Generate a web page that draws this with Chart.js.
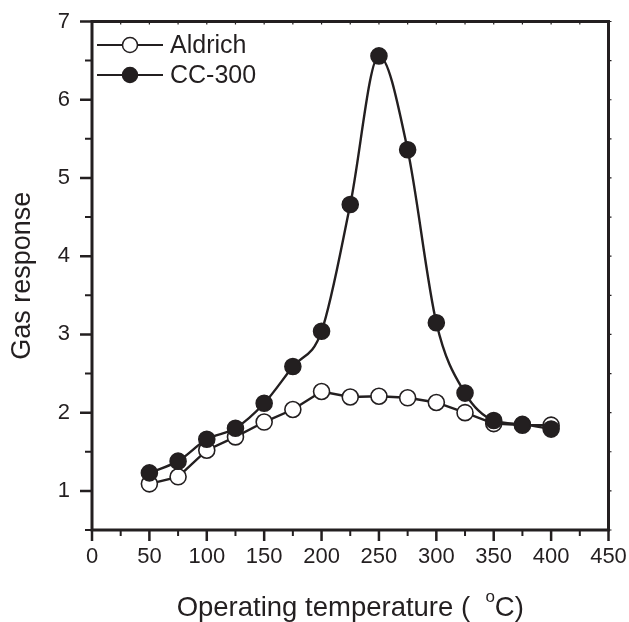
<!DOCTYPE html>
<html>
<head>
<meta charset="utf-8">
<script src="https://cdn.jsdelivr.net/npm/chart.js@4.4.1/dist/chart.umd.min.js"></script>
<style>
  html, body { margin: 0; padding: 0; background: #fff; }
</style>
</head>
<body>
<canvas id="myChart" width="629" height="622"></canvas>
<script>
'use strict';

// operating temperature (°C)
var temperatures = [50, 75, 100, 125, 150, 175, 200, 225, 250, 275, 300, 325, 350, 375, 400];
// gas response
var aldrich = [1.09, 1.18, 1.52, 1.69, 1.88, 2.04, 2.27, 2.20, 2.21, 2.19, 2.13, 2.00, 1.86, 1.84, 1.84];
var cc300 = [1.23, 1.38, 1.66, 1.80, 2.12, 2.59, 3.04, 4.66, 6.56, 5.36, 3.15, 2.25, 1.90, 1.85, 1.79];

var xTicks = [0, 50, 100, 150, 200, 250, 300, 350, 400, 450];
var yTicks = [1, 2, 3, 4, 5, 6, 7];

var ink = '#231f20';
var fontFamily = '"Liberation Sans", Arial, Helvetica, sans-serif';

function toPoints(ys) {
  return temperatures.map(function(t, i) { return { x: t, y: ys[i] }; });
}

// keep the plot box where the layout padding puts it
function noScalePadding(scale) {
  scale.paddingTop = 0;
  scale.paddingBottom = 0;
  scale.paddingLeft = 0;
  scale.paddingRight = 0;
}

// frame, major/minor ticks, legend and the x title (with the degree "o")
var decorations = {
  id: 'decorations',
  beforeDatasetsDraw: function(chart) {
    var ctx = chart.ctx;
    var a = chart.chartArea;
    var xs = chart.scales.x;
    var ys = chart.scales.y;
    ctx.save();
    ctx.strokeStyle = ink;
    ctx.lineCap = 'butt';

    // minor values sit halfway between the labelled ones
    var xMinor = [];
    for (var i = 0; i < xTicks.length - 1; i++) xMinor.push((xTicks[i] + xTicks[i + 1]) / 2);
    var yMinor = [0.5];
    for (var j = 0; j < yTicks.length - 1; j++) yMinor.push((yTicks[j] + yTicks[j + 1]) / 2);

    ctx.lineWidth = 2.5;
    ctx.beginPath();
    xTicks.forEach(function(v) {
      var px = xs.getPixelForValue(v);
      ctx.moveTo(px, a.bottom); ctx.lineTo(px, a.bottom + 11);
    });
    yTicks.forEach(function(v) {
      var py = ys.getPixelForValue(v);
      ctx.moveTo(a.left, py); ctx.lineTo(a.left - 12, py);
    });
    ctx.stroke();

    ctx.lineWidth = 2;
    ctx.beginPath();
    xMinor.forEach(function(v) {
      var px = xs.getPixelForValue(v);
      ctx.moveTo(px, a.bottom); ctx.lineTo(px, a.bottom + 6);
    });
    yMinor.forEach(function(v) {
      var py = ys.getPixelForValue(v);
      ctx.moveTo(a.left, py); ctx.lineTo(a.left - 7, py);
    });
    ctx.stroke();

    // small mirrored ticks on the top and right edges
    ctx.lineWidth = 1.2;
    ctx.beginPath();
    xTicks.concat(xMinor).forEach(function(v) {
      var px = xs.getPixelForValue(v);
      ctx.moveTo(px, a.top); ctx.lineTo(px, a.top + 3);
    });
    yTicks.concat(yMinor).forEach(function(v) {
      var py = ys.getPixelForValue(v);
      ctx.moveTo(a.right, py); ctx.lineTo(a.right + 3, py);
    });
    ctx.stroke();

    ctx.lineWidth = 3;
    ctx.strokeRect(a.left, a.top, a.right - a.left, a.bottom - a.top);
    ctx.restore();
  },
  afterDatasetsDraw: function(chart) {
    var ctx = chart.ctx;
    var a = chart.chartArea;
    ctx.save();

    // legend
    var rows = [
      { label: 'Aldrich', fill: '#ffffff', y: 45 },
      { label: 'CC-300', fill: ink, y: 75 }
    ];
    rows.forEach(function(r) {
      ctx.strokeStyle = ink;
      ctx.lineWidth = 2;
      ctx.beginPath();
      ctx.moveTo(97, r.y); ctx.lineTo(163, r.y);
      ctx.stroke();
      ctx.beginPath();
      ctx.arc(130, r.y, 7.5, 0, Math.PI * 2);
      ctx.fillStyle = r.fill;
      ctx.fill();
      ctx.lineWidth = 1.5;
      ctx.stroke();
      ctx.fillStyle = ink;
      ctx.font = '25px ' + fontFamily;
      ctx.textBaseline = 'middle';
      ctx.textAlign = 'left';
      ctx.fillText(r.label, 170, r.y + 1);
    });

    // x axis title: Operating temperature ( °C)
    var big = '27.5px ' + fontFamily;
    var small = '17px ' + fontFamily;
    var part1 = 'Operating temperature (  ';
    var part2 = 'C)';
    ctx.font = big;
    var w1 = ctx.measureText(part1).width;
    var w3 = ctx.measureText(part2).width;
    ctx.font = small;
    var w2 = ctx.measureText('o').width;
    var total = w1 + w2 + w3;
    var x0 = (a.left + a.right) / 2 - total / 2;
    var base = 616;
    ctx.textBaseline = 'alphabetic';
    ctx.textAlign = 'left';
    ctx.font = big;
    ctx.fillText(part1, x0, base);
    ctx.font = small;
    ctx.fillText('o', x0 + w1, base - 14);
    ctx.font = big;
    ctx.fillText(part2, x0 + w1 + w2, base);
    ctx.restore();
  }
};

var ctx = document.getElementById('myChart');

var myChart = new Chart(ctx, {
  type: 'line',
  data: {
    datasets: [{
      label: 'Aldrich',
      data: toPoints(aldrich),
      borderColor: ink,
      borderWidth: 2.4,
      tension: 0,
      pointRadius: 8,
      pointBorderWidth: 1.6,
      pointBackgroundColor: '#ffffff',
      pointBorderColor: ink,
      order: 2
    }, {
      label: 'CC-300',
      data: toPoints(cc300),
      borderColor: ink,
      borderWidth: 2.4,
      cubicInterpolationMode: 'monotone',
      pointRadius: 8,
      pointBorderWidth: 1.6,
      pointBackgroundColor: ink,
      pointBorderColor: ink,
      order: 1
    }]
  },
  options: {
    responsive: false,
    animation: false,
    devicePixelRatio: 1,
    layout: { padding: { top: 21.5, right: 20.5, left: 0, bottom: 0 } },
    plugins: {
      legend: { display: false },
      tooltip: { enabled: false }
    },
    scales: {
      x: {
        type: 'linear',
        min: 0,
        max: 450,
        afterBuildTicks: function(scale) {
          scale.ticks = xTicks.map(function(v) { return { value: v }; });
        },
        afterFit: function(scale) {
          scale.height = 92;
          noScalePadding(scale);
        },
        grid: { display: false, drawTicks: false },
        border: { display: false },
        ticks: {
          color: ink,
          padding: 14,
          font: { family: fontFamily, size: 22 },
          maxRotation: 0
        }
      },
      y: {
        type: 'linear',
        min: 0.5,
        max: 7,
        afterBuildTicks: function(scale) {
          scale.ticks = yTicks.map(function(v) { return { value: v }; });
        },
        afterFit: function(scale) {
          scale.width = 92;
          noScalePadding(scale);
        },
        grid: { display: false, drawTicks: false },
        border: { display: false },
        ticks: {
          color: ink,
          padding: 22,
          font: { family: fontFamily, size: 22 }
        },
        title: {
          display: true,
          text: 'Gas response',
          color: ink,
          font: { family: fontFamily, size: 27 },
          padding: { top: 6, bottom: 0 }
        }
      }
    }
  },
  plugins: [decorations]
});
</script>
</body>
</html>
